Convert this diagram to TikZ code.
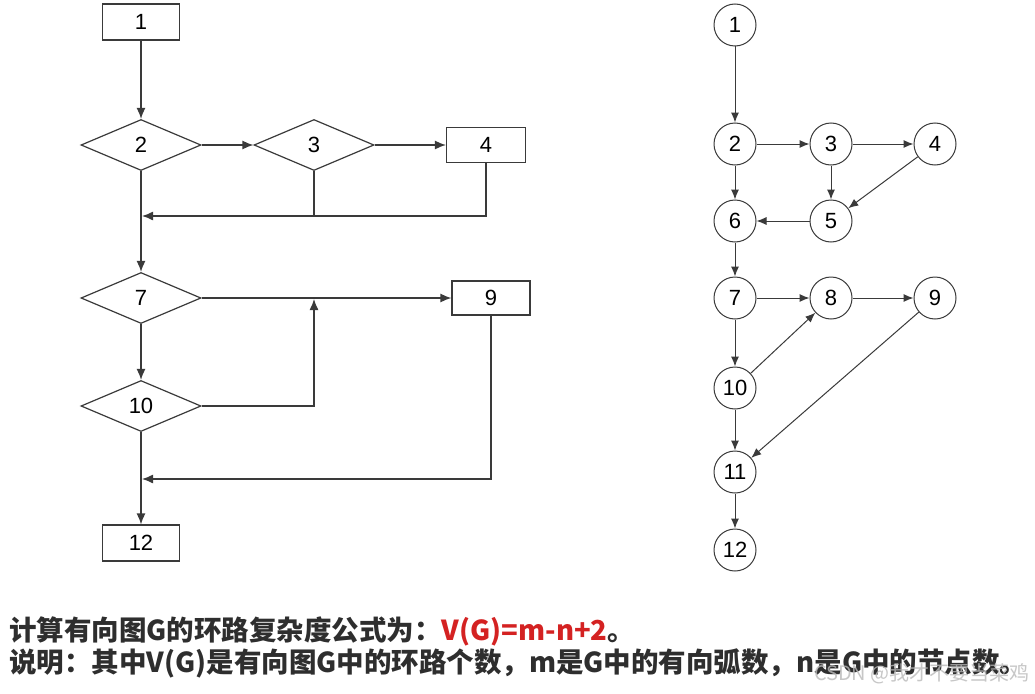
\documentclass[tikz,border=0pt]{standalone}
\usepackage{fontspec}
\setmainfont{Liberation Sans}
\newfontfamily\cjk{Noto Sans CJK SC}
\usepackage{xcolor}
\usetikzlibrary{shapes.geometric,arrows.meta}
\definecolor{lineGray}{HTML}{3A3A3A}
\definecolor{textGray}{HTML}{2E2E2E}
\definecolor{formulaRed}{HTML}{D42222}
\tikzset{
  BoxStyle/.style={draw=lineGray,line width=1.2pt,rectangle,minimum width=77pt,
    minimum height=36pt,inner sep=0pt,font=\fontsize{22}{22}\selectfont},
  DecisionStyle/.style={draw=lineGray,line width=1.2pt,diamond,aspect=2.4,
    minimum width=120pt,minimum height=51pt,inner sep=0pt,font=\fontsize{22}{22}\selectfont},
  VertexStyle/.style={draw=lineGray,line width=1pt,circle,minimum size=42pt,
    inner sep=0pt,font=\fontsize{22}{22}\selectfont},
  EdgeStyle/.style={draw=lineGray,line width=1.3pt,-{Latex[length=11pt,width=9pt]}},
  ArcStyle/.style={draw=lineGray,line width=1pt,-{Latex[length=10pt,width=8pt]}},
  PlainStyle/.style={draw=lineGray,line width=1.3pt}
}
\begin{document}
\begin{tikzpicture}[x=1pt,y=-1pt]
\fill[white] (0,0) rectangle (1035,693);
\useasboundingbox (0,0) rectangle (1035,693);
% flow chart
\node[BoxStyle] (b1) at (141,22) {1};
\node[DecisionStyle] (d2) at (141,145) {2};
\node[DecisionStyle] (d3) at (314,145) {3};
\node[BoxStyle,minimum width=79pt,minimum height=35pt] (b4) at (486,145) {4};
\node[DecisionStyle] (d7) at (141,298) {7};
\node[BoxStyle,minimum width=78pt,minimum height=34pt] (b9) at (491,298) {9};
\node[DecisionStyle] (d10) at (141,406) {10};
\node[BoxStyle] (b12) at (141,543) {12};
\coordinate (j1) at (142,216);
\coordinate (j2) at (314,299);
\coordinate (j3) at (142,479);
\draw[EdgeStyle] (b1) -- (d2);
\draw[EdgeStyle] (d2) -- (d3);
\draw[EdgeStyle] (d3) -- (b4);
\draw[EdgeStyle] (b4.south) |- (j1);
\draw[PlainStyle] (d3.south) -- (d3.south |- j1);
\draw[EdgeStyle] (d2) -- (d7);
\draw[EdgeStyle] (d7) -- (b9);
\draw[EdgeStyle] (d10.east) -| (j2);
\draw[EdgeStyle] (d7) -- (d10);
\draw[EdgeStyle] (d10) -- (b12);
\draw[EdgeStyle] (b9.south) |- (j3);
% flow graph
\node[VertexStyle] (v1) at (735,25) {1};
\node[VertexStyle] (v2) at (735,144) {2};
\node[VertexStyle] (v3) at (831,144) {3};
\node[VertexStyle] (v4) at (935,144) {4};
\node[VertexStyle] (v6) at (735,221) {6};
\node[VertexStyle] (v5) at (831,221) {5};
\node[VertexStyle] (v7) at (735,298) {7};
\node[VertexStyle] (v8) at (831,298) {8};
\node[VertexStyle] (v9) at (935,298) {9};
\node[VertexStyle] (v10) at (735,388) {10};
\node[VertexStyle] (v11) at (735,472) {11};
\node[VertexStyle] (v12) at (735,550) {12};
\foreach \a/\b in {v1/v2,v2/v3,v3/v4,v2/v6,v3/v5,v4/v5,v5/v6,v6/v7,v7/v8,v8/v9,v7/v10,v10/v8,v10/v11,v9/v11,v11/v12}
  \draw[ArcStyle] (\a) -- (\b);
% formula
\node[anchor=west,inner sep=0pt,text=textGray,font=\cjk\bfseries\fontsize{27.5}{27.5}\selectfont] (t1) at (9,631)
  {计算有向图G的环路复杂度公式为：\textcolor{formulaRed}{V(G)=m-n+2}。};
\node[anchor=west,inner sep=0pt,text=textGray,font=\cjk\bfseries\fontsize{27.5}{27.5}\selectfont] (t2) at (9,663)
  {说明：其中V(G)是有向图G中的环路个数，m是G中的有向弧数，n是G中的节点数。};
\node[anchor=east,inner sep=0pt,text=gray!55,opacity=0.8,font=\cjk\fontsize{20}{20}\selectfont] (wm) at (1030,674)
  {CSDN @我才不要当菜鸡};
\end{tikzpicture}
\end{document}
